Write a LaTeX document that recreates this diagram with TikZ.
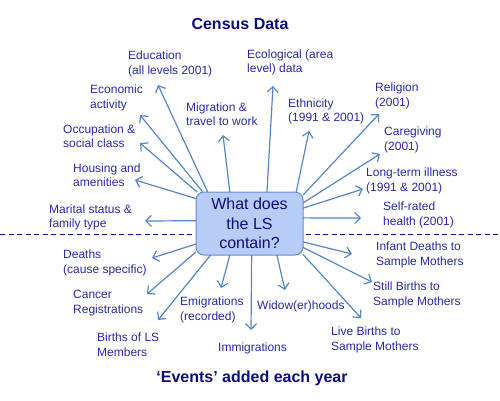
\documentclass[tikz,border=0pt]{standalone}
\usepackage{fontspec}
\setmainfont{Liberation Sans}
\usetikzlibrary{arrows.meta}
\definecolor{lblblue}{RGB}{40,40,170}
\definecolor{ttlblue}{RGB}{12,12,130}
\definecolor{arrblue}{RGB}{84,134,200}
\definecolor{boxfill}{RGB}{184,204,248}
\definecolor{boxline}{RGB}{100,140,210}
\begin{document}
\begin{tikzpicture}[x=1pt,y=-1pt,
        lbl/.style={anchor=west,inner sep=0pt,align=left,text=lblblue,font=\fontsize{12}{14.5}\selectfont},
        ttl/.style={inner sep=0pt,text=ttlblue,font=\fontsize{16}{19}\selectfont\bfseries},
        hub/.style={draw=boxline,line width=1pt,fill=boxfill,rounded corners=8pt,minimum width=107pt,minimum height=63pt,
          inner sep=0pt,outer sep=0pt,align=center,text=ttlblue,font=\fontsize{16}{19.5}\selectfont},
        every edge/.append style={draw=arrblue,line width=1.2pt,-{Straight Barb[length=5.5pt,width=11pt]}}]
        \useasboundingbox (0,0) rectangle (500,400);
        \coordinate (dl) at (0,234);
        \coordinate (dr) at (500,234);
        \draw[ttlblue,line width=0.9pt,dash pattern=on 5pt off 3.5pt] (dl) -- (dr);
        \node[ttl] (census) at (240,24.3) {Census Data};
        \node[ttl] (events) at (252,378.5) {`Events' added each year};
        \node[lbl] (educ) at (128,64) {Education\\(all levels 2001)};
        \node[lbl] (econ) at (90,98) {Economic\\activity};
        \node[lbl] (occ) at (63,136) {Occupation \&\\social class};
        \node[lbl] (hous) at (73,175) {Housing and\\amenities};
        \node[lbl] (mar) at (49,217.5) {Marital status \&\\family type};
        \node[lbl] (migr) at (186,114) {Migration \&\\travel to work};
        \node[lbl] (eco) at (247,62.5) {Ecological (area\\level) data};
        \node[lbl] (eth) at (288,111.5) {Ethnicity\\(1991 \& 2001)};
        \node[lbl] (rel) at (375,96) {Religion\\(2001)};
        \node[lbl] (care) at (384,140) {Caregiving\\(2001)};
        \node[lbl] (ill) at (366,181) {Long-term illness\\(1991 \& 2001)};
        \node[lbl] (hlth) at (383,215) {Self-rated\\health (2001)};
        \node[lbl] (inf) at (376,255) {Infant Deaths to\\Sample Mothers};
        \node[lbl] (still) at (373,295) {Still Births to\\Sample Mothers};
        \node[lbl] (live) at (331,340) {Live Births to\\Sample Mothers};
        \node[lbl] (wid) at (257,306) {Widow(er)hoods};
        \node[lbl] (immi) at (218,348) {Immigrations};
        \node[lbl] (emi) at (180,310) {Emigrations\\(recorded)};
        \node[lbl] (blsm) at (97,344.5) {Births of LS\\Members};
        \node[lbl] (canc) at (73,303) {Cancer\\Registrations};
        \node[lbl] (dth) at (63,263) {Deaths\\(cause specific)};
        \coordinate (t_educ) at (158,85);
        \coordinate (t_econ) at (140,115);
        \coordinate (t_occ) at (140,143);
        \coordinate (t_hous) at (135,180);
        \coordinate (t_mar) at (145,221);
        \coordinate (t_migr) at (223,135);
        \coordinate (t_eco) at (273,86);
        \coordinate (t_eth) at (309,131);
        \coordinate (t_rel) at (379,114);
        \coordinate (t_care) at (380,154);
        \coordinate (t_ill) at (363,189);
        \coordinate (t_hlth) at (361,218);
        \coordinate (t_inf) at (352,254);
        \coordinate (t_still) at (372,282);
        \coordinate (t_live) at (361,318);
        \coordinate (t_wid) at (285,290);
        \coordinate (t_immi) at (251,330);
        \coordinate (t_emi) at (221,288);
        \coordinate (t_blsm) at (158,320);
        \coordinate (t_canc) at (147,294);
        \coordinate (t_dth) at (152,258);
        \node[hub] (ls) at (249.5,223.5) {What does\\the LS\\contain?};
        \path
        (ls.143) edge (t_educ)
        (ls.146) edge (t_econ)
        (ls.149) edge (t_occ)
        (ls.155) edge (t_hous)
        (ls.177) edge (t_mar)
        (ls.122) edge (t_migr)
        (ls.61) edge (t_eco)
        (ls.34) edge (t_eth)
        (ls.28) edge (t_rel)
        (ls.21) edge (t_care)
        (ls.16) edge (t_ill)
        (ls.6) edge (t_hlth)
        (ls.341) edge (t_inf)
        (ls.336) edge (t_still)
        (ls.330) edge (t_live)
        (ls.311) edge (t_wid)
        (ls.274) edge (t_immi)
        (ls.238) edge (t_emi)
        (ls.219) edge (t_blsm)
        (ls.208) edge (t_canc)
        (ls.201) edge (t_dth)
        ;
    \end{tikzpicture}
\end{document}
